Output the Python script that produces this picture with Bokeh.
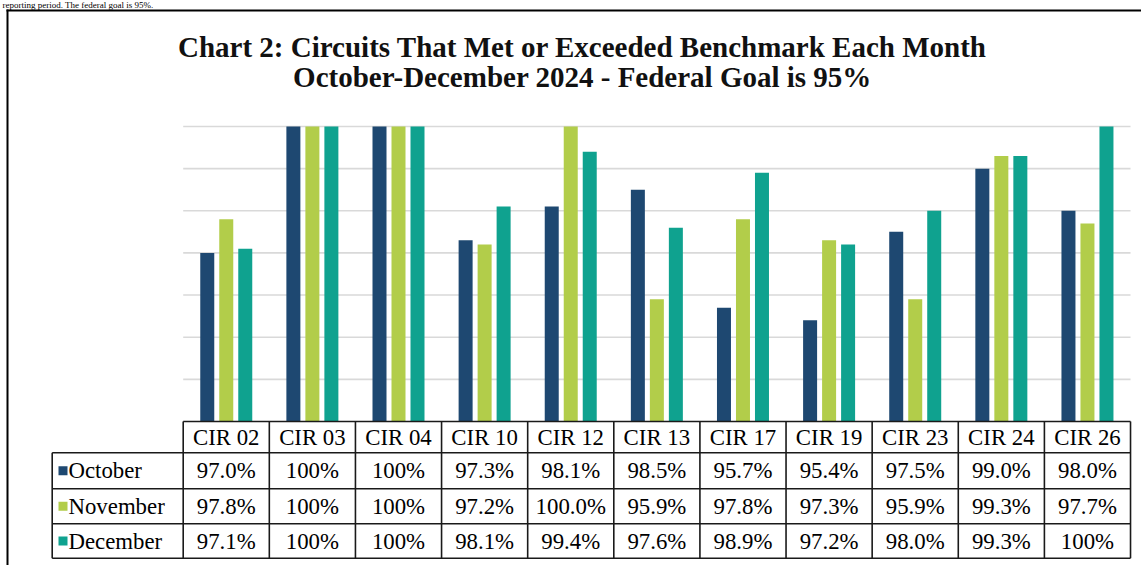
from bokeh.plotting import figure
from bokeh.models import Range1d
from bokeh.core.properties import value
from bokeh.embed import file_html
from bokeh.resources import INLINE

# ---------------- data ----------------
circuits = ["CIR 02", "CIR 03", "CIR 04", "CIR 10", "CIR 12", "CIR 13",
            "CIR 17", "CIR 19", "CIR 23", "CIR 24", "CIR 26"]
months = ["October", "November", "December"]
october_text = ["97.0%", "100%", "100%", "97.3%", "98.1%", "98.5%",
                "95.7%", "95.4%", "97.5%", "99.0%", "98.0%"]
november_text = ["97.8%", "100%", "100%", "97.2%", "100.0%", "95.9%",
                 "97.8%", "97.3%", "95.9%", "99.3%", "97.7%"]
december_text = ["97.1%", "100%", "100%", "98.1%", "99.4%", "97.6%",
                 "98.9%", "97.2%", "98.0%", "99.3%", "100%"]
y_floor = 93
grid_levels = [94, 95, 96, 97, 98, 99, 100]
title_lines = ["Chart 2: Circuits That Met or Exceeded Benchmark Each Month",
               "October-December 2024 - Federal Goal is 95%"]
lead_in_text = "reporting period.  The federal goal is 95%."

month_texts = [october_text, november_text, december_text]
month_values = [[float(s.rstrip("%")) for s in t] for t in month_texts]

# ---------------- layout / style ----------------
W, H = 1141, 565
PLOT_LEFT = 182.7          # px where first circuit column starts
COL_W = 86.12              # px per circuit column
Y100 = 126.0               # px of the 100% level
PX_PER_PCT = 42.14
TABLE_TOP = Y100 + (100 - y_floor) * PX_PER_PCT
HEADER_BOTTOM = 452.3
ROW_BOTTOMS = [488.3, 523.3, 557.7]
LABEL_LEFT = (51.7 - PLOT_LEFT) / COL_W   # in column units
colors = ["#1E4871", "#B2CD4A", "#0FA28F"]
BAR_W = 14.0 / COL_W
BAR_STEP = 19.0 / COL_W
SERIF = value("Liberation Serif")
LINE_COL = "#1a1a1a"
TABLE_FONT = "22.8px"

p = figure(width=W, height=H, x_range=Range1d(0, W), y_range=Range1d(H, 0),
           output_backend="svg", toolbar_location=None, min_border=0,
           x_axis_type=None, y_axis_type=None)
p.grid.visible = False
p.outline_line_color = None
p.background_fill_color = "white"
p.border_fill_color = "white"

p.extra_x_ranges = {"col": Range1d(-PLOT_LEFT / COL_W, (W - PLOT_LEFT) / COL_W)}
p.extra_y_ranges = {"pct": Range1d(100 - (H - Y100) / PX_PER_PCT, 100 + Y100 / PX_PER_PCT)}

n = len(circuits)

# gridlines
p.segment(x0=[0] * len(grid_levels), x1=[n] * len(grid_levels),
          y0=grid_levels, y1=grid_levels, x_range_name="col", y_range_name="pct",
          line_color="#D9D9D9", line_width=1.6)

# bars
for j, (vals, c) in enumerate(zip(month_values, colors)):
    xs = [i + 0.5 + (j - 1) * BAR_STEP for i in range(n)]
    p.vbar(x=xs, top=vals, bottom=y_floor, width=BAR_W, fill_color=c,
           line_color=None, x_range_name="col", y_range_name="pct")

# table lines
hx0, hx1, hy = [0], [n], [TABLE_TOP]
for yb in [HEADER_BOTTOM] + ROW_BOTTOMS:
    hx0.append(LABEL_LEFT); hx1.append(n); hy.append(yb)
p.segment(x0=hx0, x1=hx1, y0=hy, y1=hy, x_range_name="col",
          line_color=LINE_COL, line_width=1.6)
vx = list(range(n + 1)) + [LABEL_LEFT]
vy0 = [TABLE_TOP] * (n + 1) + [HEADER_BOTTOM]
vy1 = [ROW_BOTTOMS[-1]] * (n + 2)
p.segment(x0=vx, x1=vx, y0=vy0, y1=vy1, x_range_name="col",
          line_color=LINE_COL, line_width=1.6)

# table texts
header_mid = (TABLE_TOP + HEADER_BOTTOM) / 2
row_tops = [HEADER_BOTTOM] + ROW_BOTTOMS[:-1]
row_mids = [(a + b) / 2 for a, b in zip(row_tops, ROW_BOTTOMS)]
p.text(x=[i + 0.5 for i in range(n)], y=[header_mid] * n, text=circuits,
       x_range_name="col", text_align="center", text_baseline="middle",
       text_font=SERIF, text_font_size=TABLE_FONT, text_color="black")
for r, t in enumerate(month_texts):
    p.text(x=[i + 0.5 for i in range(n)], y=[row_mids[r]] * n, text=t,
           x_range_name="col", text_align="center", text_baseline="middle",
           text_font=SERIF, text_font_size=TABLE_FONT, text_color="black")

# legend keys in the first column
p.scatter(x=[62.5] * 3, y=row_mids, marker="square", size=9,
          fill_color=colors, line_color=None)
p.text(x=[68] * 3, y=row_mids, text=months, text_align="left",
       text_baseline="middle", text_font=SERIF, text_font_size=TABLE_FONT,
       text_color="black")

# title
p.text(x=[582, 582], y=[46, 76.5], text=title_lines, text_align="center",
       text_baseline="middle", text_font=SERIF, text_font_size="29px",
       text_font_style="bold", text_color="#111111")

# line of the surrounding document text above the chart box
p.text(x=[2], y=[4], text=[lead_in_text], text_align="left",
       text_baseline="middle", text_font=SERIF, text_font_size="9px",
       text_color="black")

# outer frame (left & top edges)
p.segment(x0=[7, 6], x1=[7, W], y0=[9, 10], y1=[H, 10],
          line_color="black", line_width=2)

open("out.html", "w").write(file_html(p, INLINE))
